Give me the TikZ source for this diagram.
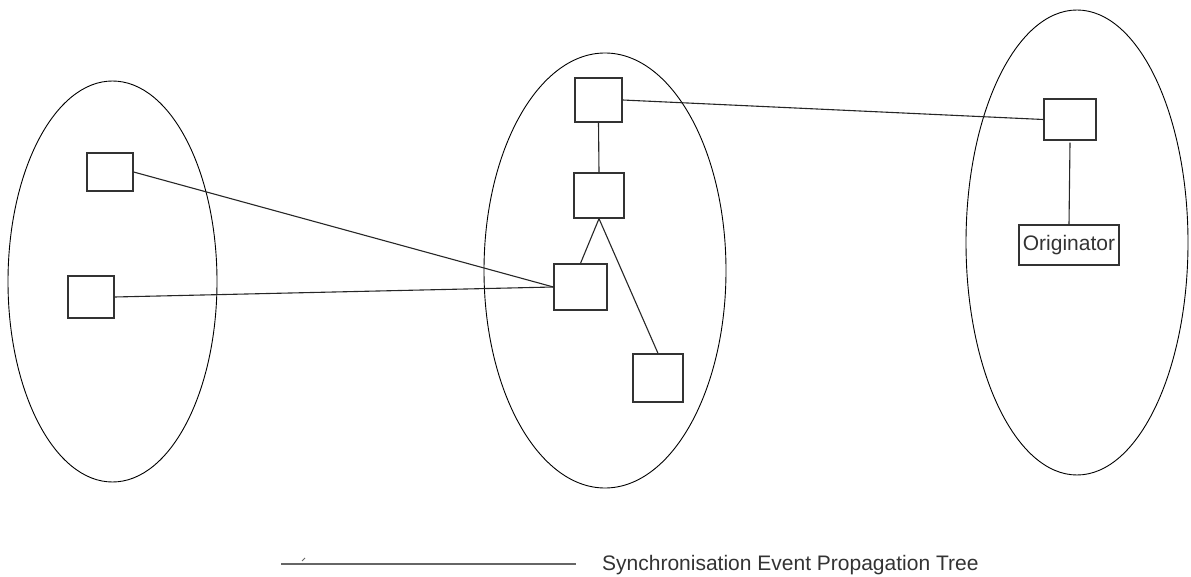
\documentclass[tikz,border=0pt]{standalone}
\usepackage{fontspec}
\setmainfont{Liberation Sans}
\definecolor{inkgray}{HTML}{333333}
\begin{document}
\begin{tikzpicture}[x=1pt, y=-1pt, line join=miter,
  box/.style={draw=inkgray, line width=1.3pt, inner sep=0pt, text=inkgray},
  ring/.style={draw=black, line width=0.9pt},
  link/.style={draw=black!85, line width=1.1pt}]
  \useasboundingbox (0,0) rectangle (1191,577);

  % the three groups
  \draw[ring] (112.5,281.5) ellipse [x radius=104.5pt, y radius=200.5pt];
  \draw[ring] (605,270.5) ellipse [x radius=121pt, y radius=217.5pt];
  \draw[ring] (1077,242.5) ellipse [x radius=111pt, y radius=232.5pt];

  % members
  \node[box, minimum width=46pt, minimum height=38pt] (L1) at (110,172) {};
  \node[box, minimum width=46pt, minimum height=42pt] (L2) at (91,297) {};
  \node[box, minimum width=47pt, minimum height=44pt] (M1) at (598.5,100) {};
  \node[box, minimum width=50pt, minimum height=45pt] (M2) at (599,195.5) {};
  \node[box, minimum width=53pt, minimum height=46pt] (M3) at (580.5,287) {};
  \node[box, minimum width=50pt, minimum height=48pt] (M4) at (658,378) {};
  \node[box, minimum width=52pt, minimum height=41pt] (R1) at (1070,119.5) {};
  \node[box, minimum width=100pt, minimum height=40pt, font=\fontsize{21}{25}\selectfont]
    (orig) at (1069,245) {Originator};

  % propagation tree
  \draw[link] (L1.east) -- (M3.west);
  \draw[link] (L2.east) -- (M3.west);
  \draw[link] (M1.east) -- (R1.west);
  \draw[link] (M1.south) -- (M2.north);
  \draw[link] (M2.south) -- (M3.north);
  \draw[link] (M2.south) -- (M4.north);
  \draw[link] ([yshift=-2pt]R1.south) -- (orig.north);

  % legend
  \coordinate (keyA) at (281,564);
  \coordinate (keyB) at (576,564);
  \draw[gray!80!black, line width=2.2pt] (keyA) -- (keyB);
  \draw[gray!80!black, line width=0.8pt] (302,561) -- (305,558);
  \node[anchor=base west, inner sep=0pt, text=inkgray, font=\fontsize{21}{25}\selectfont]
    (keytext) at (602,570) {Synchronisation Event Propagation Tree};
\end{tikzpicture}
\end{document}
